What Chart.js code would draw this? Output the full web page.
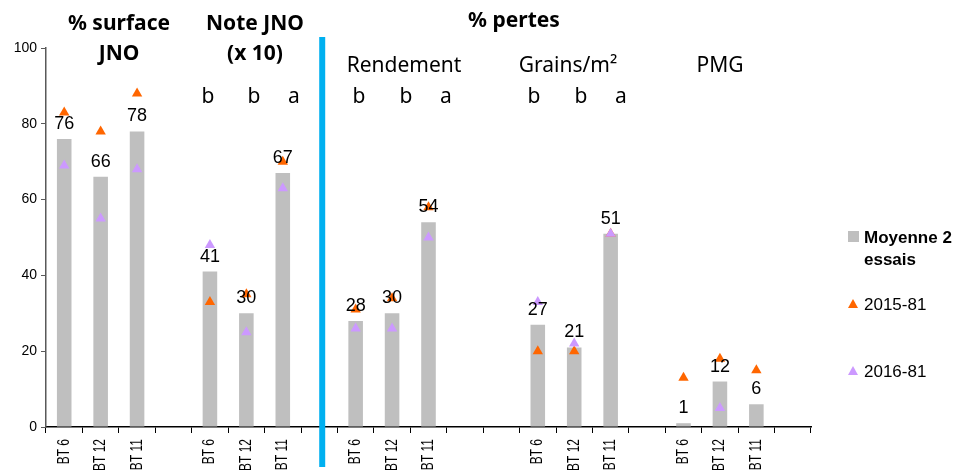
<!DOCTYPE html>
<html>
<head>
<meta charset="utf-8">
<script src="https://cdn.jsdelivr.net/npm/chart.js@4/dist/chart.umd.min.js"></script>
<style>
  html, body { margin: 0; padding: 0; background: #fff; }
  #wrap { width: 962px; height: 473px; position: relative; }
</style>
</head>
<body>
<div id="wrap"><canvas id="myChart" width="962" height="473"></canvas></div>
<script>
// categories (blank entries are the gaps between the blocks)
var categories = ['BT 6', 'BT 12', 'BT 11', '',
                  'BT 6', 'BT 12', 'BT 11', '',
                  'BT 6', 'BT 12', 'BT 11', '', '',
                  'BT 6', 'BT 12', 'BT 11', '',
                  'BT 6', 'BT 12', 'BT 11', ''];

var moyenne = [76, 66, 78, null,
               41, 30, 67, null,
               28, 30, 54, null, null,
               27, 21, 51, null,
               1, 12, 6, null];

var essai2015 = [83, 78, 88, null,
                 33, 35, 70, null,
                 31, 34, 58, null, null,
                 20, 20, 51, null,
                 13, 18, 15, null];

var essai2016 = [69, 55, 68, null,
                 48, 25, 63, null,
                 26, 26, 50, null, null,
                 33, 22, 51, null,
                 null, 5, null, null];

var yTicks = [0, 20, 40, 60, 80, 100];

var seriesNames = ['Moyenne 2 essais', '2015-81', '2016-81'];

// texts written over the plot
var titles = [['% surface', 'JNO'], ['Note JNO', '(x 10)'], ['% pertes']];
var subTitles = ['Rendement', 'Grains/m²', 'PMG'];
var letters = [['b', 'b', 'a'], ['b', 'b', 'a'], ['b', 'b', 'a']];

var GREY = '#BFBFBF';
var ORANGE = '#FF6600';
var PURPLE = '#CC99FF';
var BLUE = '#00B0F0';
var ARIAL = '"Liberation Sans", Arial, sans-serif';
var SANS = '"Noto Sans", "Open Sans", sans-serif';

// where the over-plot texts sit
var titlePos = [[119, 30, 60], [255, 30, 60], [514, 27]];
var subTitlePos = [[404, 72], [568, 72], [720, 72]];
var letterPos = [[208, 254, 294], [359, 406, 446], [534, 581, 621]];
var letterY = 103;

var decor = {
  id: 'decor',
  beforeDraw: function(chart) {
    var ctx = chart.ctx;
    ctx.save();
    ctx.fillStyle = '#fff';
    ctx.fillRect(0, 0, chart.width, chart.height);
    ctx.restore();
  },
  afterDatasetsDraw: function(chart) {
    var ctx = chart.ctx;
    var x = chart.scales.x;
    var bottom = chart.chartArea.bottom;
    ctx.save();

    // category labels, rotated and a bit stretched like the original
    ctx.fillStyle = '#000';
    ctx.font = '12px ' + ARIAL;
    ctx.textAlign = 'right';
    ctx.textBaseline = 'middle';
    categories.forEach(function(c, i) {
      if (!c) return;
      ctx.save();
      ctx.translate(x.getPixelForValue(i), bottom + 12);
      ctx.rotate(-Math.PI / 2);
      ctx.scale(1, 1.35);
      ctx.fillText(c, 0, 0);
      ctx.restore();
    });

    // bar values
    var meta = chart.getDatasetMeta(0);
    ctx.font = '18px ' + ARIAL;
    ctx.textAlign = 'center';
    ctx.textBaseline = 'alphabetic';
    meta.data.forEach(function(bar, i) {
      if (moyenne[i] == null) return;
      ctx.fillText(String(moyenne[i]), bar.x, bar.y - 10);
    });

    // blue separator
    var sx = x.getPixelForValue(7) + 3;
    ctx.strokeStyle = BLUE;
    ctx.lineWidth = 6;
    ctx.beginPath();
    ctx.moveTo(sx, 37);
    ctx.lineTo(sx, 467);
    ctx.stroke();

    // titles
    ctx.font = 'bold 21px ' + SANS;
    titles.forEach(function(lines, i) {
      lines.forEach(function(t, j) {
        ctx.fillText(t, titlePos[i][0], titlePos[i][j + 1]);
      });
    });
    ctx.font = '21px ' + SANS;
    subTitles.forEach(function(t, i) {
      ctx.fillText(t, subTitlePos[i][0], subTitlePos[i][1]);
    });
    letters.forEach(function(grp, i) {
      grp.forEach(function(t, j) {
        ctx.fillText(t, letterPos[i][j], letterY);
      });
    });

    // legend
    ctx.textAlign = 'left';
    ctx.fillStyle = GREY;
    ctx.fillRect(848, 231, 11, 11);
    ctx.fillStyle = '#000';
    ctx.font = 'bold 17px ' + ARIAL;
    ctx.fillText('Moyenne 2', 864, 243);
    ctx.fillText('essais', 864, 265);
    ctx.font = '17px ' + ARIAL;
    ctx.fillText(seriesNames[1], 864, 310);
    ctx.fillText(seriesNames[2], 864, 377);
    drawTri(ctx, 853, 305, ORANGE);
    drawTri(ctx, 853, 372, PURPLE);
    ctx.restore();
  }
};

function drawTri(ctx, cx, cy, col) {
  ctx.fillStyle = col;
  ctx.beginPath();
  ctx.moveTo(cx, cy - 6);
  ctx.lineTo(cx + 5, cy + 3);
  ctx.lineTo(cx - 5, cy + 3);
  ctx.closePath();
  ctx.fill();
}

var ctx = document.getElementById('myChart').getContext('2d');
var chart = new Chart(ctx, {
  type: 'bar',
  data: {
    labels: categories,
    datasets: [{
      label: seriesNames[0],
      data: moyenne,
      backgroundColor: GREY,
      borderWidth: 0,
      barPercentage: 0.4,
      categoryPercentage: 1,
      order: 3
    }, {
      type: 'line',
      label: seriesNames[1],
      data: essai2015,
      showLine: false,
      pointStyle: 'triangle',
      pointRadius: 6,
      pointBorderWidth: 0,
      pointBackgroundColor: ORANGE,
      pointBorderColor: ORANGE,
      order: 2
    }, {
      type: 'line',
      label: seriesNames[2],
      data: essai2016,
      showLine: false,
      pointStyle: 'triangle',
      pointRadius: 6,
      pointBorderWidth: 0,
      pointBackgroundColor: PURPLE,
      pointBorderColor: PURPLE,
      order: 1
    }]
  },
  options: {
    responsive: false,
    animation: false,
    events: [],
    layout: { padding: { top: 48, right: 151, left: 0, bottom: 0 } },
    plugins: {
      legend: { display: false },
      tooltip: { enabled: false }
    },
    scales: {
      x: {
        offset: true,
        grid: { offset: true, drawOnChartArea: false, drawTicks: true, tickLength: 6, color: '#000' },
        border: { color: '#000', width: 1.5 },
        ticks: { display: false },
        afterFit: function(s) { s.height = 46; }
      },
      y: {
        min: 0, max: 100,
        afterBuildTicks: function(s) { s.ticks = yTicks.map(function(v) { return { value: v }; }); },
        grid: { drawOnChartArea: false, drawTicks: true, tickLength: 5, color: '#595959' },
        border: { color: '#595959', width: 1.5 },
        ticks: { padding: 4, color: '#000', font: { family: ARIAL, size: 14 } },
        afterFit: function(s) { s.width = 46; }
      }
    }
  },
  plugins: [decor]
});
</script>
</body>
</html>
